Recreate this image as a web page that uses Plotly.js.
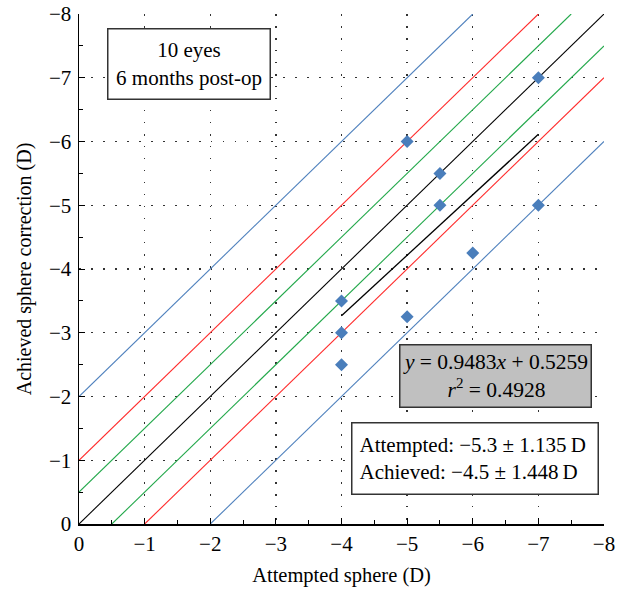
<!DOCTYPE html>
<html><head><meta charset="utf-8">
<script src="https://cdn.plot.ly/plotly-3.0.1.min.js"></script>
<style>body{margin:0;background:#fff}#chart{width:624px;height:593px}</style>
</head><body><div id="chart"></div>
<script>
// Data
const attempted = [-4, -4, -4, -5, -5, -5.5, -5.5, -6, -7, -7];
const achieved  = [-3.5, -3, -2.5, -6, -3.25, -5.5, -5, -4.25, -7, -5];
const offsets = [-2, -1, -0.5, 0, 0.5, 1, 2];
const offsetColors = ['#4f81bd', '#ff2a2a', '#22a84a', '#000000', '#22a84a', '#ff2a2a', '#4f81bd'];
const slope = [0.9483];
const intercept = [0.5259];
const r2 = [0.4928];
const fitRange = [-4, -7];
const tickVals = [0, -1, -2, -3, -4, -5, -6, -7, -8];

const traces = [];
offsets.forEach((d, i) => {
  const xs = d > 0 ? -d : 0;
  const xe = d < 0 ? -8 - d : -8;
  traces.push({x: [xs, xe], y: [xs + d, xe + d], mode: 'lines',
    line: {color: offsetColors[i], width: 1.1}, hoverinfo: 'skip', showlegend: false, cliponaxis: false});
});
traces.push({x: fitRange, y: fitRange.map(v => slope[0] * v + intercept[0]), mode: 'lines',
  line: {color: '#000', width: 1.3}, showlegend: false});
traces.push({x: attempted, y: achieved, mode: 'markers', type: 'scatter',
  marker: {symbol: 'diamond', size: 10, color: '#4a7ebb'}, showlegend: false, cliponaxis: false});

const font = {family: '"Liberation Serif", "DejaVu Serif", serif', color: '#000'};
const axisCommon = {
  range: [0, -8], tickvals: tickVals, showline: true, linecolor: '#000', linewidth: 1.5,
  ticks: 'inside', ticklen: 6, tickcolor: '#000', tickwidth: 1,
  minor: {dtick: 0.5, ticks: 'inside', ticklen: 4, tickcolor: '#000', showgrid: false},
  showgrid: true, gridcolor: '#333', griddash: '1.5px,10.5px', gridwidth: 1.3,
  zeroline: false, tickfont: Object.assign({size: 21}, font), mirror: false
};

const layout = {
  width: 624, height: 593,
  margin: {l: 79, r: 20, t: 14, b: 69},
  paper_bgcolor: '#fff', plot_bgcolor: '#fff',
  font: font,
  xaxis: Object.assign({}, axisCommon, {title: {text: 'Attempted sphere (D)', font: Object.assign({size: 20.5}, font), standoff: 13}}),
  yaxis: Object.assign({}, axisCommon, {ticklabelstandoff: 2, title: {text: 'Achieved sphere correction (D)', font: Object.assign({size: 20}, font), standoff: 12}}),
  annotations: [
    {xref: 'paper', yref: 'paper', x: 0.2086, y: 0.901, xanchor: 'center', yanchor: 'middle',
     text: '10 eyes<br>6 months post-op', showarrow: false, align: 'center',
     width: 161, height: 69, borderpad: 0, bordercolor: '#333', borderwidth: 1.5, bgcolor: '#fff',
     font: Object.assign({size: 21}, font)},
    {xref: 'paper', yref: 'paper', x: 0.794, y: 0.291, xanchor: 'center', yanchor: 'middle',
     text: '<i>y</i> = 0.9483<i>x</i> + 0.5259<br><i>r</i><sup>2</sup> = 0.4928', showarrow: false, align: 'center',
     width: 190, height: 61, borderpad: 0, bordercolor: '#333', borderwidth: 1.5, bgcolor: '#c0c0c0',
     font: Object.assign({size: 21.5}, font)},
    {xref: 'paper', yref: 'paper', x: 0.755, y: 0.129, xanchor: 'center', yanchor: 'middle',
     text: 'Attempted: \u22125.3 \u00b1 1.135\u2009D<br>Achieved: \u22124.5 \u00b1 1.448\u2009D', showarrow: false, align: 'left',
     width: 231, height: 56, borderpad: 7, bordercolor: '#333', borderwidth: 1.5, bgcolor: '#fff',
     font: Object.assign({size: 21}, font)}
  ]
};
Plotly.newPlot('chart', traces, layout, {displayModeBar: false, staticPlot: true});
</script></body></html>
